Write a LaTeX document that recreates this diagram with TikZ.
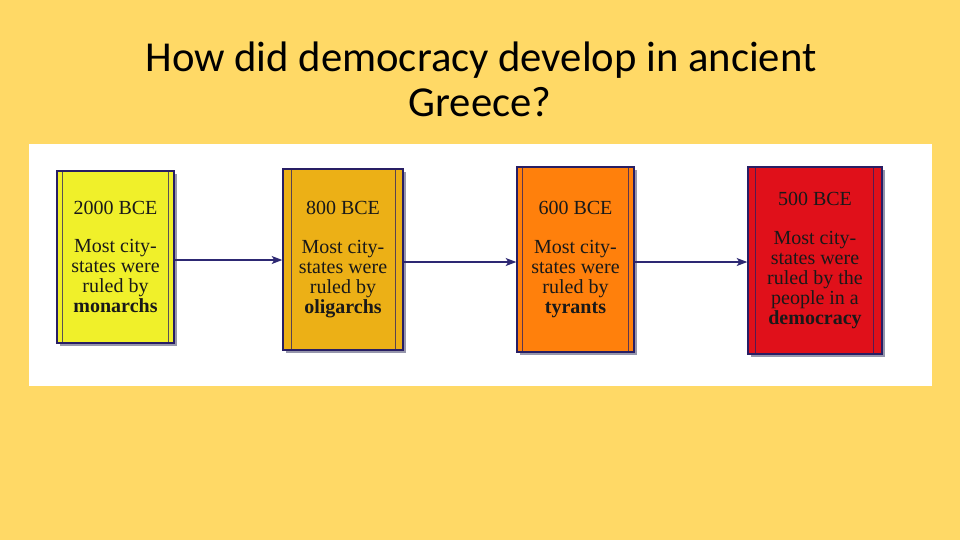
\documentclass[tikz,border=0pt]{standalone}
\usepackage{fontspec}
\setmainfont{Liberation Serif}
\newfontfamily\titlefont{Carlito}
\usetikzlibrary{shadows,arrows.meta}

\definecolor{slidebg}{RGB}{255,217,102}
\definecolor{boxline}{RGB}{40,30,100}
\definecolor{linkline}{RGB}{45,40,115}
\definecolor{shadowgrey}{RGB}{150,150,172}
\definecolor{monarchfill}{RGB}{240,240,42}
\definecolor{oligarchfill}{RGB}{236,176,22}
\definecolor{tyrantfill}{RGB}{255,128,12}
\definecolor{demofill}{RGB}{224,16,26}

\tikzset{every picture/.style={line width=0.75pt}}
\tikzset{
  erabox/.style={draw=boxline, line width=1pt, align=center, inner sep=0pt,
    font=\fontsize{15}{15}\selectfont, text=black!90,
    drop shadow={shadow xshift=2.4pt, shadow yshift=-2.4pt, fill=shadowgrey, opacity=1}},
  pillar/.style={draw=boxline, draw opacity=0.75, line width=0.9pt},
  link/.style={draw=linkline, line width=1pt, -{Stealth[length=8pt, width=6pt, inset=2pt]}},
  titletext/.style={font=\titlefont\fontsize{32}{36}\selectfont, anchor=base, inner sep=0pt}
}

\begin{document}
\begin{tikzpicture}[x=0.75pt,y=0.75pt,yscale=-1,xscale=1]
\useasboundingbox (0,0) rectangle (960,540);

%Background
\fill [slidebg] (0,0) rectangle (960,540);
%Shape: Rectangle (white panel)
\fill [white] (29,144) rectangle (932,386);

% Text Node
\node [titletext] (title1) at (481,71) {How did democracy develop in ancient};
% Text Node
\node [titletext] (title2) at (480,116) {Greece?};

%Shape: Rectangle
\node [erabox, fill=monarchfill, minimum width=87.75pt, minimum height=129pt] (monarchy) at (115.5,257)
  {2000 BCE\\[14pt] Most city-\\ states were\\ ruled by\\ \textbf{monarchs}};
%Shape: Rectangle
\node [erabox, fill=oligarchfill, minimum width=90pt, minimum height=135.75pt] (oligarchy) at (343,259.5)
  {800 BCE\\[14pt] Most city-\\ states were\\ ruled by\\ \textbf{oligarchs}};
%Shape: Rectangle
\node [erabox, fill=tyrantfill, minimum width=87.75pt, minimum height=138.75pt] (tyranny) at (575.5,259.5)
  {600 BCE\\[14pt] Most city-\\ states were\\ ruled by\\ \textbf{tyrants}};
%Shape: Rectangle
\node [erabox, fill=demofill, minimum width=100.5pt, minimum height=140.25pt] (democracy) at (815,260.5)
  {500 BCE\\[14pt] Most city-\\ states were\\ ruled by the\\ people in a\\ \textbf{democracy}};

%Straight Lines (inner edges)
\draw [pillar] ([shift={(6,0)}]monarchy.north west) -- ([shift={(6,0)}]monarchy.south west);
\draw [pillar] ([shift={(-6,0)}]monarchy.north east) -- ([shift={(-6,0)}]monarchy.south east);
\draw [pillar] ([shift={(9,0)}]oligarchy.north west) -- ([shift={(9,0)}]oligarchy.south west);
\draw [pillar] ([shift={(-8,0)}]oligarchy.north east) -- ([shift={(-8,0)}]oligarchy.south east);
\draw [pillar] ([shift={(6,0)}]tyranny.north west) -- ([shift={(6,0)}]tyranny.south west);
\draw [pillar] ([shift={(-6,0)}]tyranny.north east) -- ([shift={(-6,0)}]tyranny.south east);
\draw [pillar] ([shift={(8,0)}]democracy.north west) -- ([shift={(8,0)}]democracy.south west);
\draw [pillar] ([shift={(-9,0)}]democracy.north east) -- ([shift={(-9,0)}]democracy.south east);

%Straight Lines
\draw [link] (monarchy.east |- 0,260) -- (oligarchy.west |- 0,260);
%Straight Lines
\draw [link] (oligarchy.east |- 0,262) -- (tyranny.west |- 0,262);
%Straight Lines
\draw [link] (tyranny.east |- 0,262) -- (democracy.west |- 0,262);

\end{tikzpicture}
\end{document}
